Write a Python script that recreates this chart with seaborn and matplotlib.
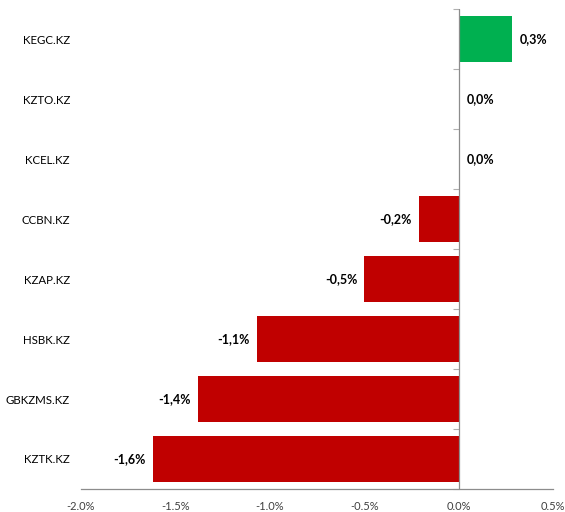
import matplotlib
matplotlib.use("Agg")
import matplotlib.pyplot as plt
import seaborn as sns
import pandas as pd
import numpy as np

tickers = ["KEGC.KZ", "KZTO.KZ", "KCEL.KZ", "CCBN.KZ", "KZAP.KZ", "HSBK.KZ", "GBKZMS.KZ", "KZTK.KZ"]
changes = [0.28, 0.0, 0.0, -0.21, -0.50, -1.07, -1.38, -1.62]
value_labels = ["0,3%", "0,0%", "0,0%", "-0,2%", "-0,5%", "-1,1%", "-1,4%", "-1,6%"]
x_ticks = [-2.0, -1.5, -1.0, -0.5, 0.0, 0.5]

sns.set_style("white")
plt.rcParams["font.family"] = ["Lato", "DejaVu Sans"]

df = pd.DataFrame({"ticker": tickers, "change": changes})
colors = ["#00B050" if v > 0 else "#C00000" for v in changes]

fig = plt.figure(figsize=(5.65, 5.12), dpi=100)
ax = fig.add_axes([0.1434, 0.045, 0.8356, 0.937])

sns.barplot(data=df, x="change", y="ticker", hue="ticker", palette=colors,
            orient="h", width=0.77, legend=False, ax=ax, saturation=1, linewidth=0)

ax.set_xlim(-2.0, 0.5)
ax.set_ylim(len(tickers) - 0.5, -0.5)
ax.set_xticks(x_ticks)
ax.set_xticklabels([f"{t:.1f}%" for t in x_ticks], fontsize=8, color="#404040")
ax.tick_params(axis="x", length=5, width=0.8, color="#8c8c8c", direction="out", pad=4)
ax.tick_params(axis="y", length=0, pad=8, labelsize=8.3, labelcolor="#000000")
ax.set_xlabel("")
ax.set_ylabel("")
for s in ["top", "right", "left"]:
    ax.spines[s].set_visible(False)
ax.spines["bottom"].set_color("#8c8c8c")
ax.spines["bottom"].set_linewidth(0.9)

# vertical axis line at zero with category boundary ticks
ax.axvline(0, color="#8c8c8c", linewidth=0.9, zorder=3)
sec = ax.secondary_yaxis(0.8)
sec.set_yticks(np.arange(-0.5, len(tickers), 1.0))
sec.set_yticklabels([])
sec.tick_params(length=4, width=0.8, color="#b0b0b0", direction="in")
for s in sec.spines.values():
    s.set_visible(False)

for i, (v, lab) in enumerate(zip(changes, value_labels)):
    if v >= 0:
        ax.annotate(lab, (v, i), xytext=(6, 0), textcoords="offset points",
                    ha="left", va="center", fontsize=9, fontweight="bold", color="#000000")
    else:
        ax.annotate(lab, (v, i), xytext=(-5, 0), textcoords="offset points",
                    ha="right", va="center", fontsize=9, fontweight="bold", color="#000000")

fig.savefig("out.png", dpi=100)
